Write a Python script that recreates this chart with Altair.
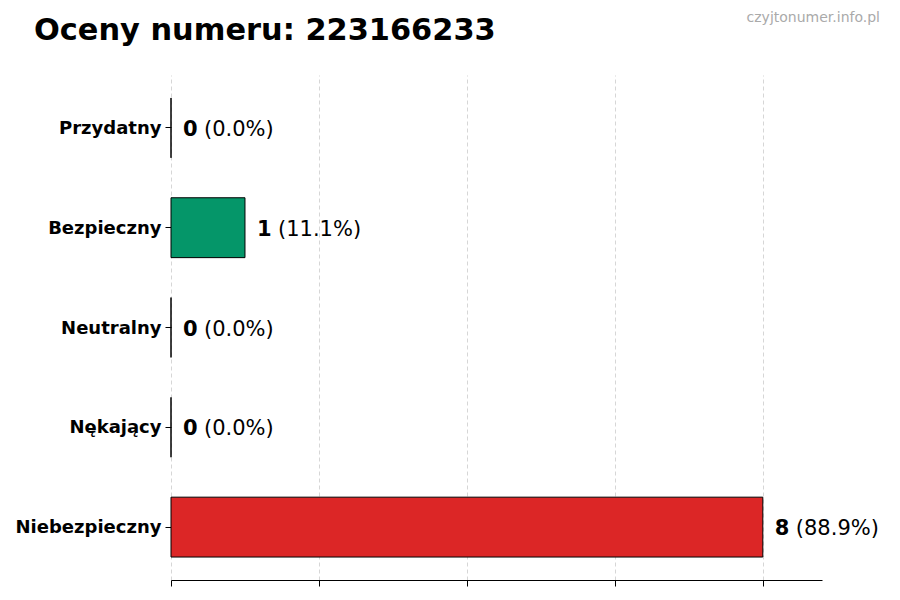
import altair as alt
import pandas as pd

categories = ["Przydatny", "Bezpieczny", "Neutralny", "Nękający", "Niebezpieczny"]
counts = [0, 1, 0, 0, 8]
percents = ["(0.0%)", "(11.1%)", "(0.0%)", "(0.0%)", "(88.9%)"]
colors = ["#059669", "#059669", "#9ca3af", "#f59e0b", "#dc2626"]

df = pd.DataFrame({
    "cat": categories,
    "count": counts,
    "count_label": [str(c) for c in counts],
    "pct": percents,
    "color": colors,
})

FONT = "DejaVu Sans"

y_enc = alt.Y(
    "cat:N",
    sort=categories,
    scale=alt.Scale(paddingInner=0.4, paddingOuter=0.23),
    axis=alt.Axis(
        title=None, domain=False, ticks=True, tickSize=6, tickColor="black",
        labelFont=FONT, labelFontSize=18, labelFontWeight="bold", labelColor="black",
        labelPadding=4, labelOffset=1, grid=False,
    ),
)

x_enc = alt.X(
    "count:Q",
    scale=alt.Scale(domain=[0, 8.8], nice=False, zero=True),
    axis=alt.Axis(
        title=None, values=[0, 2, 4, 6, 8], labels=False, ticks=True, tickSize=6,
        tickColor="black", domain=True, domainColor="black", grid=True,
        gridColor="#cccccc", gridDash=[4, 3], gridWidth=0.8,
    ),
)

bars = alt.Chart(df).mark_bar(stroke="black", strokeWidth=1, opacity=1).encode(
    x=x_enc,
    y=y_enc,
    color=alt.Color("color:N", scale=None),
)

num = alt.Chart(df).mark_text(
    align="left", baseline="middle", dx=12, dy=2, font=FONT, fontSize=21, fontWeight="bold", color="black"
).encode(x="count:Q", y=alt.Y("cat:N", sort=categories), text="count_label:N")

pct = alt.Chart(df).mark_text(
    align="left", baseline="middle", dx=33, dy=2, font=FONT, fontSize=21, color="black"
).encode(x="count:Q", y=alt.Y("cat:N", sort=categories), text="pct:N")

wm = alt.Chart(pd.DataFrame({"t": ["czyjtonumer.info.pl"]})).mark_text(
    align="right", baseline="alphabetic", font=FONT, fontSize=14, color="#aaaaaa"
).encode(x=alt.value(709), y=alt.value(-53), text="t:N")

ttl = alt.Chart(pd.DataFrame({"t": ["Oceny numeru: 223166233"]})).mark_text(
    align="left", baseline="alphabetic", font=FONT, fontSize=30.4, fontWeight="bold", color="black"
).encode(x=alt.value(-137), y=alt.value(-35), text="t:N")

chart = alt.layer(bars, num, pct, wm, ttl).properties(
    width=651,
    height=505,
    padding={"left": 163, "top": 67, "right": 70, "bottom": 12},
    autosize=alt.AutoSizeParams(type="none"),
).configure(
    background="white",
    view=alt.ViewConfig(stroke="transparent", strokeWidth=0),
)

chart.save("out.html", embed_options={"renderer": "svg", "actions": False})
